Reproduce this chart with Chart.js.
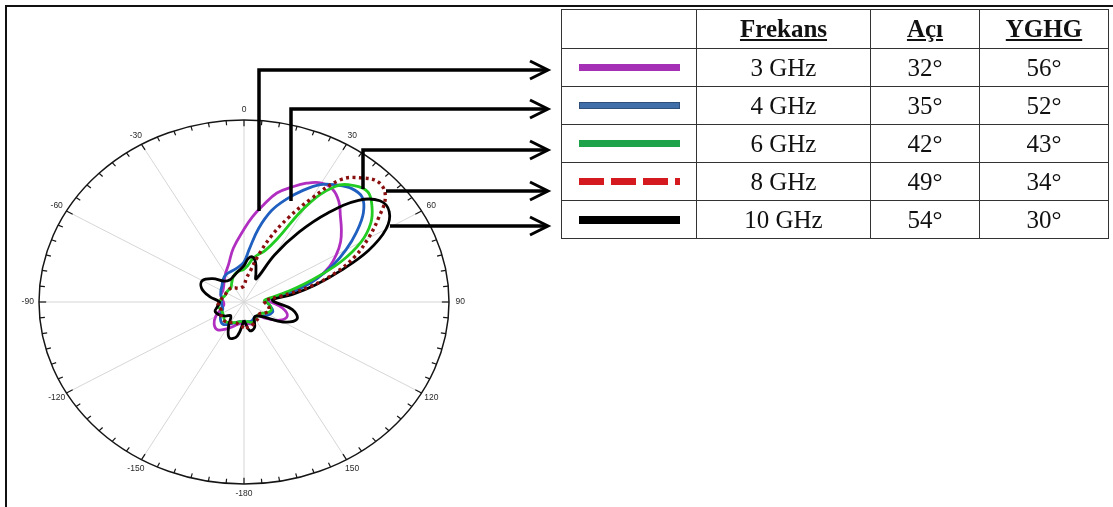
<!DOCTYPE html>
<html>
<head>
<meta charset="utf-8">
<script src="https://cdn.jsdelivr.net/npm/chart.js@4.4.1/dist/chart.umd.min.js"></script>
<style>
  html, body { margin: 0; padding: 0; background: #fff; }
  #wrap { position: relative; width: 1113px; height: 507px; overflow: hidden; }
  #polar { position: absolute; left: 0; top: 0; }
  #arrows { position: absolute; left: 0; top: 0; }
  .frame { position: absolute; background: #111; }
  table { position: absolute; left: 561px; top: 9px; border-collapse: collapse;
          font-family: 'Liberation Serif', 'DejaVu Serif', serif; font-size: 25px; color: #111; }
  td { border: 1.5px solid #333; text-align: center; padding: 0; }
  thead td { font-weight: bold; text-decoration: underline; height: 38px; }
  tbody td { height: 37px; }
  .sw { width: 101px; height: 7px; margin: 0 auto; }
</style>
</head>
<body>
<div id="wrap">
  <canvas id="polar" width="1113" height="507"></canvas>
  <table id="tbl">
    <colgroup><col style="width:135px"><col style="width:174px"><col style="width:109px"><col style="width:129px"></colgroup>
    <thead><tr><td></td><td>Frekans</td><td>Açı</td><td>YGHG</td></tr></thead>
    <tbody></tbody>
  </table>
  <svg id="arrows" width="1113" height="507">
    <g fill="none" stroke="#000" stroke-width="3.5" stroke-linejoin="miter">
      <polyline points="259,211 259,70 546,70"/>
      <polyline points="291,201 291,109 546,109"/>
      <polyline points="363,189 363,150 546,150"/>
      <polyline points="386,191 546,191"/>
      <polyline points="390,226 546,226"/>
    </g>
    <g fill="none" stroke="#000" stroke-width="3">
      <polyline points="530,61 548,70 530,79"/>
      <polyline points="530,100 548,109 530,118"/>
      <polyline points="530,141 548,150 530,159"/>
      <polyline points="530,182 548,191 530,200"/>
      <polyline points="530,217 548,226 530,235"/>
    </g>
  </svg>
  <div class="frame" style="left:5px;top:5px;width:1108px;height:2px"></div>
  <div class="frame" style="left:5px;top:5px;width:2px;height:502px"></div>
</div>
<script>
// açılar (derece, 0 = yukarı, saat yönünde pozitif)
const angleDeg = [-180,-170,-160,-150,-140,-130,-120,-110,-100,-90,-80,-70,-60,-50,-40,-30,-20,-10,
                  0,5,10,15,20,25,30,35,40,45,50,55,60,65,70,75,80,85,90,
                  100,110,120,130,140,150,160,170];

// normalize yarıçaplar (dış halka = 1)
const r3GHz = [0.12,0.12,0.14,0.17,0.2,0.19,0.16,0.12,0.10,0.10,0.11,0.12,0.12,0.13,0.15,0.18,0.22,0.30,
               0.40,0.47,0.54,0.62,0.67,0.72,0.755,0.755,0.72,0.665,0.62,0.575,0.52,0.46,0.38,0.26,0.15,0.11,0.13,
               0.19,0.225,0.2,0.14,0.1,0.11,0.13,0.12];
const r4GHz = [0.11,0.11,0.12,0.14,0.16,0.15,0.13,0.11,0.11,0.11,0.11,0.12,0.13,0.14,0.16,0.175,0.18,0.19,
               0.22,0.29,0.41,0.52,0.6,0.675,0.745,0.785,0.815,0.815,0.76,0.67,0.575,0.48,0.38,0.28,0.16,0.11,0.11,
               0.13,0.15,0.14,0.12,0.1,0.1,0.11,0.11];
const r6GHz = [0.11,0.11,0.12,0.13,0.14,0.13,0.12,0.12,0.13,0.12,0.11,0.1,0.1,0.1,0.1,0.12,0.15,0.17,
               0.18,0.2,0.24,0.27,0.3,0.38,0.61,0.775,0.835,0.855,0.815,0.755,0.66,0.52,0.35,0.22,0.13,0.1,0.11,
               0.13,0.14,0.12,0.1,0.1,0.11,0.12,0.11];
const r8GHz = [0.14,0.13,0.12,0.13,0.14,0.14,0.13,0.12,0.13,0.12,0.11,0.1,0.1,0.1,0.1,0.09,0.08,0.08,
               0.09,0.13,0.17,0.26,0.38,0.51,0.655,0.82,0.89,0.93,0.9,0.8,0.7,0.6,0.48,0.34,0.18,0.1,0.1,
               0.12,0.13,0.12,0.1,0.11,0.12,0.13,0.14];
const r10GHz = [0.1,0.19,0.21,0.15,0.1,0.12,0.14,0.15,0.13,0.12,0.17,0.22,0.235,0.2,0.15,0.14,0.15,0.17,
                0.2,0.24,0.25,0.22,0.17,0.14,0.3,0.47,0.64,0.79,0.865,0.865,0.8,0.67,0.5,0.36,0.24,0.14,0.15,
                0.24,0.275,0.22,0.13,0.1,0.1,0.15,0.16];

// tablo içeriği
const freqLabels = ['3 GHz','4 GHz','6 GHz','8 GHz','10 GHz'];
const beamAngle = [32, 35, 42, 49, 54];
const hpbw = [56, 52, 43, 34, 30];

// polar eksen etiketleri
const tickAngles = [0,30,60,90,120,150,180,210,240,270,300,330];
const tickLabels = ['0','30','60','90','120','150','-180','-150','-120','-90','-60','-30'];

const toXY = rs => {
  const pts = angleDeg.map((a, i) => {
    const t = a * Math.PI / 180;
    return {x: rs[i] * Math.sin(t), y: rs[i] * Math.cos(t)};
  });
  pts.push(pts[0]);
  return pts;
};

const polarGrid = {
  id: 'polarGrid',
  beforeDatasetsDraw(chart) {
    const {ctx, scales: {x, y}} = chart;
    const cx = x.getPixelForValue(0), cy = y.getPixelForValue(0);
    const rx = x.getPixelForValue(1) - cx, ry = cy - y.getPixelForValue(1);
    const P = (a, r) => [cx + rx * r * Math.sin(a * Math.PI / 180), cy - ry * r * Math.cos(a * Math.PI / 180)];
    ctx.save();
    ctx.strokeStyle = '#d6d6d6';
    ctx.lineWidth = 1;
    tickAngles.forEach(a => {
      const [px, py] = P(a, 1);
      ctx.beginPath(); ctx.moveTo(cx, cy); ctx.lineTo(px, py); ctx.stroke();
    });
    ctx.strokeStyle = '#151515';
    ctx.lineWidth = 1.5;
    ctx.beginPath(); ctx.ellipse(cx, cy, rx, ry, 0, 0, Math.PI * 2); ctx.stroke();
    ctx.lineWidth = 1.2;
    for (let a = 0; a < 360; a += 5) {
      const len = a % 30 === 0 ? 0.035 : 0.025;
      const [x1, y1] = P(a, 1), [x2, y2] = P(a, 1 - len);
      ctx.beginPath(); ctx.moveTo(x1, y1); ctx.lineTo(x2, y2); ctx.stroke();
    }
    ctx.fillStyle = '#2a2a2a';
    ctx.font = '8.5px Arial, "Liberation Sans", sans-serif';
    ctx.textAlign = 'center';
    ctx.textBaseline = 'middle';
    tickAngles.forEach((a, i) => {
      const [px, py] = P(a, 1.055);
      ctx.fillText(tickLabels[i], px, py);
    });
    ctx.restore();
  }
};

const lineBase = {showLine: true, fill: false, pointRadius: 0, borderWidth: 2.8, tension: 0.4, clip: false};

new Chart(document.getElementById('polar'), {
  type: 'scatter',
  data: {
    datasets: [
      {...lineBase, label: '8 GHz', data: toXY(r8GHz), borderColor: '#8a1010', borderDash: [3, 3.5], borderWidth: 3.4, order: 0},
      {...lineBase, label: '10 GHz', data: toXY(r10GHz), borderColor: '#000', order: 1},
      {...lineBase, label: '6 GHz', data: toXY(r6GHz), borderColor: '#22cc22', order: 2},
      {...lineBase, label: '4 GHz', data: toXY(r4GHz), borderColor: '#1f5fbf', order: 3},
      {...lineBase, label: '3 GHz', data: toXY(r3GHz), borderColor: '#b02fc0', order: 4}
    ]
  },
  options: {
    responsive: false,
    animation: false,
    events: [],
    layout: {padding: {left: 39, right: 664, top: 120, bottom: 23}},
    scales: {
      x: {type: 'linear', min: -1, max: 1, display: false},
      y: {type: 'linear', min: -1, max: 1, display: false}
    },
    plugins: {legend: {display: false}, tooltip: {enabled: false}}
  },
  plugins: [polarGrid]
});

// tablo satırları
const swatchCss = [
  'background:#a630b5',
  'background:#3f6ea8;box-shadow:inset 0 0 0 1px #2e4f7a',
  'background:#1fa34a',
  'background:repeating-linear-gradient(90deg,#d41a1f 0 25px,transparent 25px 32px)',
  'background:#000;height:8px'
];
const tbody = document.querySelector('#tbl tbody');
freqLabels.forEach((f, i) => {
  const tr = document.createElement('tr');
  tr.innerHTML = `<td><div class="sw" style="${swatchCss[i]}"></div></td><td>${f}</td><td>${beamAngle[i]}°</td><td>${hpbw[i]}°</td>`;
  tbody.appendChild(tr);
});
</script>
</body>
</html>
